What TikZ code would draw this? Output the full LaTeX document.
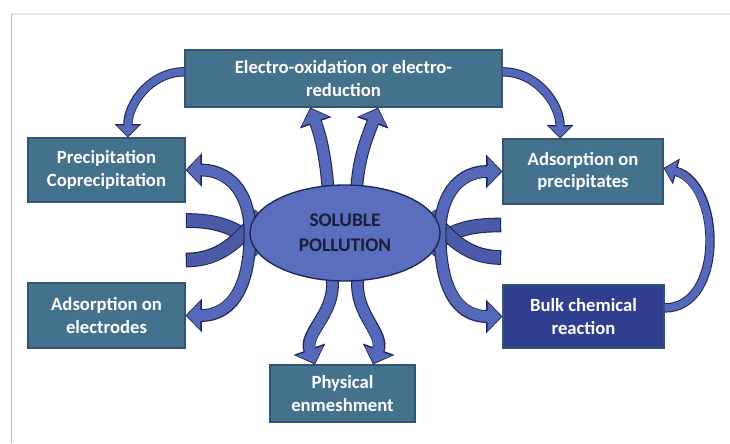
\documentclass[tikz,border=0pt]{standalone}
\usepackage{fontspec}
\setmainfont{Carlito}
\usetikzlibrary{arrows.meta,shapes.geometric}
\definecolor{boxteal}{HTML}{44728C}
\definecolor{boxnavy}{HTML}{2F3E8E}
\definecolor{blobblue}{HTML}{5B6EBD}
\definecolor{arrowblue}{HTML}{5568B9}
\definecolor{tailblue}{HTML}{4A5CA8}
\definecolor{inkline}{HTML}{1D2652}
\definecolor{blobtext}{HTML}{1A1E3A}
\pgfdeclarelayer{paper}
\pgfdeclarelayer{ribbons}
\pgfsetlayers{paper,ribbons,main}

\begin{document}
\begin{tikzpicture}[x=0.75pt,y=0.75pt,
  proc/.style={draw=inkline!40!boxteal, line width=0.8pt, text=white, align=center,
    inner sep=0pt, font=\fontsize{14}{16.8}\selectfont\bfseries},
  rimbig/.style={draw=inkline, line width=9.6pt, -{Triangle[length=12.2pt,width=24.5pt]}},
  corebig/.style={draw=arrowblue, line width=8pt, -{Triangle[length=10pt,width=21pt]}, shorten >=1.1pt},
  rimthin/.style={draw=inkline, line width=7pt, -{Triangle[length=10pt,width=19.5pt]}},
  corethin/.style={draw=arrowblue, line width=5.5pt, -{Triangle[length=8pt,width=16pt]}, shorten >=1pt},
  rimtail/.style={draw=inkline, line width=11pt, shorten >=-0.9pt},
  coretail/.style={draw=tailblue, line width=9.4pt}]

  \useasboundingbox (0,0) rectangle (730,443);
  \begin{pgfonlayer}{paper}
    \fill[white] (0,0) rectangle (730,443);
    \draw[gray!55, line width=1.2pt] (11.5,0) -- (11.5,429);
    \draw[gray!18, line width=1.5pt] (11.5,429) -- (730,429);
  \end{pgfonlayer}

  \foreach \nm/\cx/\cy/\bw/\bh/\fillc/\txt in {
      elec/343.5/364.5/317/57/boxteal/{Electro-oxidation or electro-\\reduction},
      prec/106.5/273/157/64/boxteal/{Precipitation\\Coprecipitation},
      adsp/583/271.5/160/65/boxteal/{Adsorption on\\precipitates},
      adse/106.5/127.5/157/65/boxteal/{Adsorption on\\electrodes},
      phys/342.5/49.5/145/57/boxteal/{Physical\\enmeshment},
      bulk/583.5/126.5/161/63/boxnavy/{Bulk chemical\\reaction}} {
    \node[proc, fill=\fillc, minimum width=\bw*0.75pt, minimum height=\bh*0.75pt] (\nm) at (\cx,\cy) {\txt};
  }

  \node[ellipse, draw=inkline, line width=1pt, fill=blobblue, minimum width=142.5pt,
    minimum height=72pt, inner sep=0pt, outer sep=0pt, align=center, text=blobtext,
    font=\fontsize{14.5}{18.5}\selectfont\bfseries] (pol) at (345,210) {SOLUBLE\\POLLUTION};

  \coordinate (tl1) at (187,222.5);
  \coordinate (tl2) at (187,183);
  \coordinate (tr1) at (500,218);
  \coordinate (tr2) at (500,185.5);

  \begin{pgfonlayer}{ribbons}
    \foreach \s/\dx/\dy/\t/\o/\i in {pol.west/8/-14/tl1/130/0, pol.west/8/14/tl2/-130/0,
        pol.east/-8/-14/tr1/50/180, pol.east/-8/14/tr2/-50/180} {
      \draw[rimtail] ([xshift=\dx pt,yshift=\dy pt]\s) to[out=\o,in=\i] (\t);
      \draw[coretail] ([xshift=\dx pt,yshift=\dy pt]\s) to[out=\o,in=\i] (\t);
    }

    \foreach \s/\t/\tx/\o/\i/\lo in {pol.110/elec.south/-25/95/-70/1,
        pol.76/elec.south/26/85/-110/1, pol.255/phys.north/-20.6/-85/110/1,
        pol.285/phys.north/22.9/-95/70/1, pol.west/prec.east/0/90/0/1.2,
        pol.west/adse.east/0/-90/0/1.2, pol.east/adsp.west/0/90/180/1.2,
        pol.east/bulk.west/0/-90/180/1.2} {
      \draw[rimbig] (\s) to[out=\o,in=\i,looseness=\lo] ([xshift=\tx pt]\t);
      \draw[corebig] (\s) to[out=\o,in=\i,looseness=\lo] ([xshift=\tx pt]\t);
    }

    \foreach \s/\sy/\t/\tx/\ty/\o/\i/\lo in {elec.west/5/prec.north/16/0/180/90/1,
        elec.east/5/adsp.north/-17.2/0/0/90/1, bulk.east/6.4/adsp.east/0/2.6/0/-15/1.1} {
      \draw[rimthin] ([yshift=\sy pt]\s) to[out=\o,in=\i,looseness=\lo] ([xshift=\tx pt,yshift=\ty pt]\t);
      \draw[corethin] ([yshift=\sy pt]\s) to[out=\o,in=\i,looseness=\lo] ([xshift=\tx pt,yshift=\ty pt]\t);
    }
  \end{pgfonlayer}
\end{tikzpicture}
\end{document}
